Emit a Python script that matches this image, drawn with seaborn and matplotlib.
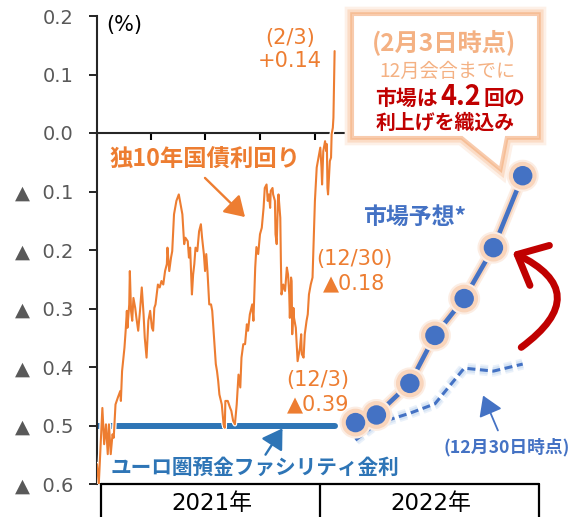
import numpy as np
import pandas as pd
import matplotlib
matplotlib.use("Agg")
import matplotlib.pyplot as plt
import matplotlib.patheffects as pe
from matplotlib.patches import Polygon, FancyArrowPatch
from matplotlib.lines import Line2D
from matplotlib.offsetbox import TextArea, HPacker, AnnotationBbox
import seaborn as sns

# German 10y bund yield, days counted from 2021-01-01 (%)
bund_days = [
    0, 3, 9, 12, 15, 18, 20, 23, 26, 28, 31, 35, 39, 40, 42, 46, 48, 50, 51, 54,
    55, 57, 59, 61, 64, 66, 69, 72, 75, 78, 80, 83, 86, 89, 92, 94, 96, 98, 102, 105,
    108, 111, 114, 117, 118, 121, 124, 126, 129, 131, 133, 137, 141, 143, 146, 148, 152, 154, 156, 159,
    161, 163, 165, 168, 171, 174, 176, 179, 181, 183, 185, 188, 191, 193, 196, 199, 201, 203, 205, 209,
    212, 214, 215, 219, 223, 225, 228, 231, 234, 237, 240, 242, 245, 248, 251, 253, 256, 260, 262, 265,
    267, 270, 273, 276, 279, 281, 284, 286, 288, 290, 291, 294, 295, 298, 299, 301, 303, 304, 307, 308,
    309, 312, 315, 318, 320, 322, 323, 325, 326, 327, 329, 330, 333, 336, 337, 340, 342, 343, 346, 348,
    351, 353, 355, 358, 361, 363, 365, 368, 371, 374, 376, 377, 379, 382, 384, 385, 386, 387, 390, 392,
    393, 395, 396, 398,
]
bund_yield = [
    -0.566, -0.600, -0.470, -0.532, -0.498, -0.549, -0.498, -0.549, -0.515, -0.521,
    -0.464, -0.452, -0.441, -0.458, -0.407, -0.367, -0.338, -0.304, -0.333, -0.293,
    -0.236, -0.304, -0.321, -0.282, -0.299, -0.316, -0.338, -0.304, -0.264, -0.310,
    -0.350, -0.384, -0.321, -0.304, -0.333, -0.338, -0.299, -0.293, -0.259, -0.264,
    -0.253, -0.259, -0.236, -0.224, -0.196, -0.236, -0.213, -0.202, -0.139, -0.128,
    -0.116, -0.105, -0.128, -0.139, -0.190, -0.179, -0.185, -0.213, -0.196, -0.276,
    -0.242, -0.224, -0.196, -0.202, -0.168, -0.156, -0.179, -0.207, -0.236, -0.207,
    -0.236, -0.293, -0.293, -0.304, -0.350, -0.395, -0.407, -0.424, -0.447, -0.464,
    -0.498, -0.504, -0.458, -0.458, -0.470, -0.475, -0.492, -0.498, -0.464, -0.413,
    -0.435, -0.384, -0.361, -0.361, -0.327, -0.338, -0.310, -0.293, -0.321, -0.230,
    -0.195, -0.207, -0.173, -0.162, -0.128, -0.094, -0.088, -0.116, -0.105, -0.128,
    -0.099, -0.094, -0.105, -0.116, -0.173, -0.190, -0.116, -0.105, -0.145, -0.219,
    -0.276, -0.259, -0.270, -0.230, -0.242, -0.276, -0.316, -0.247, -0.253, -0.344,
    -0.299, -0.316, -0.333, -0.390, -0.384, -0.367, -0.344, -0.378, -0.384, -0.344,
    -0.321, -0.310, -0.276, -0.259, -0.247, -0.180, -0.116, -0.059, -0.042, -0.025,
    -0.059, -0.088, -0.031, -0.014, -0.031, -0.019, -0.094, -0.105, -0.048, -0.042,
    -0.002, 0.009, 0.026, 0.140,
]

# ECB deposit facility rate
depo_dates = ["2021-01-01", "2022-02-03"]
depo_rate = [-0.50, -0.50]

# market-implied deposit rate after each 2022 meeting
meeting_dates = ["2022-03-10", "2022-04-14", "2022-06-09", "2022-07-21",
                 "2022-09-08", "2022-10-27", "2022-12-15"]
implied_feb3 = [-0.495, -0.482, -0.428, -0.346, -0.283, -0.196, -0.073]
implied_dec30 = [-0.525, -0.497, -0.479, -0.463, -0.402, -0.407, -0.395]

y_ticks = [0.2, 0.1, 0.0, -0.1, -0.2, -0.3, -0.4, -0.5, -0.6]
year_labels = ["2021年", "2022年"]

W, H = 583, 517
start = pd.Timestamp("2021-01-01")

bund = pd.DataFrame({"date": start + pd.to_timedelta(bund_days, unit="D"),
                     "yield": bund_yield})
market = pd.DataFrame({"date": pd.to_datetime(meeting_dates),
                       "feb3": implied_feb3, "dec30": implied_dec30})

sns.set_style("ticks")
plt.rcParams["font.family"] = ["DejaVu Sans", "Noto Sans CJK JP"]
JP = ["Noto Sans CJK JP", "DejaVu Sans"]

ORANGE = "#ED7D31"
BLUE = "#4472C4"
DBLUE = "#2E75B6"
RED = "#C00000"

fig = plt.figure(figsize=(W / 100, H / 100), dpi=100)
ax = fig.add_axes([97 / W, 33 / H, 443 / W, 468 / H])


def P(x, y):
    return (x / W, 1 - y / H)


# deposit rate
ax.plot(pd.to_datetime(depo_dates), depo_rate, color=DBLUE, lw=4.3,
        solid_capstyle="round", zorder=2)

# bund yield with white halo
sns.lineplot(data=bund, x="date", y="yield", ax=ax, color=ORANGE, lw=1.5,
             estimator=None, zorder=3,
             path_effects=[pe.Stroke(linewidth=3.2, foreground="white"), pe.Normal()])

# dashed expectation (Dec 30)
sns.lineplot(data=market, x="date", y="dec30", ax=ax, color=BLUE, lw=2.2,
             estimator=None, linestyle=(0, (2.6, 1.5)), zorder=3,
             path_effects=[pe.Stroke(linewidth=8, foreground="#EAF1FA"),
                           pe.Stroke(linewidth=5.5, foreground="#D6E4F4"),
                           pe.Normal()])

# current expectation (Feb 3)
glow = [pe.Stroke(linewidth=9, foreground="#FCEDE3"),
        pe.Stroke(linewidth=6, foreground="#F9D5BC"),
        pe.Normal()]
sns.lineplot(data=market, x="date", y="feb3", ax=ax, color=BLUE, lw=3.3,
             estimator=None, marker="o", markersize=14, markeredgewidth=0,
             markeredgecolor=BLUE, zorder=4, path_effects=glow)

ax.set_xlim(start, start + pd.Timedelta(days=742))
ax.set_ylim(-0.6, 0.2)
ax.set_xlabel("")
ax.set_ylabel("")

ax.set_yticks(y_ticks)
ax.set_yticklabels([f"{v:.1f}" if v >= 0 else f"▲  {abs(v):.1f}" for v in y_ticks])
ax.tick_params(axis="y", direction="out", length=6, width=1.2, pad=11,
               labelsize=14, labelcolor="#595959", color="black")

qticks = pd.date_range("2021-01-01", "2022-10-01", freq="QS")
ax.set_xticks(qticks)
ax.set_xticklabels([""] * len(qticks))
ax.tick_params(axis="x", direction="out", length=5, width=1.5, color="black")

ax.spines["bottom"].set_position(("data", 0))
ax.spines["bottom"].set_linewidth(1.5)
ax.spines["left"].set_linewidth(1.5)
ax.spines["top"].set_visible(False)
ax.spines["right"].set_visible(False)

# year table under the plot
for seg in [((101, 484), (539, 484)), ((101, 484), (101, 520)),
            ((320, 484), (320, 520)), ((539, 484), (539, 520))]:
    (x0, y0), (x1, y1) = seg
    fig.add_artist(Line2D([x0 / W, x1 / W], [1 - y0 / H, 1 - y1 / H],
                          transform=fig.transFigure, color="black", lw=1.6))
fig.text(*P(212, 504), year_labels[0], ha="center", va="center", fontsize=16.5, color="black")
fig.text(*P(431, 504), year_labels[1], ha="center", va="center", fontsize=16.5, color="black")

fig.text(*P(106, 25), "(%)", ha="left", va="center", fontsize=15, color="black")

# series labels
fig.text(*P(110, 160), "独10年国債利回り", ha="left", va="center", fontsize=16.8,
         fontweight="bold", color=ORANGE, family=JP)
fig.add_artist(FancyArrowPatch(P(203, 176), P(247, 219), transform=fig.transFigure,
                               arrowstyle="-|>,head_length=0.8,head_width=0.5",
                               mutation_scale=15, lw=1.7, color=ORANGE))

fig.text(*P(111, 467), "ユーロ圏預金ファシリティ金利", ha="left", va="center",
         fontsize=14.9, fontweight="bold", color=DBLUE, family=JP)
fig.add_artist(FancyArrowPatch(P(264, 457), P(284, 426), transform=fig.transFigure,
                               arrowstyle="-|>,head_length=0.8,head_width=0.5",
                               mutation_scale=15, lw=1.7, color=DBLUE))

fig.text(*P(363, 217), "市場予想*", ha="left", va="center", fontsize=16.5,
         fontweight="bold", color=BLUE, family=JP)
fig.text(*P(507, 447), "(12月30日時点)", ha="center", va="center", fontsize=12.8,
         fontweight="bold", color=BLUE, family=JP)
fig.add_artist(FancyArrowPatch(P(499, 433), P(482, 393), transform=fig.transFigure,
                               arrowstyle="-|>,head_length=0.8,head_width=0.5",
                               mutation_scale=15, lw=1.3, color=BLUE))

# value call-outs
for x, y1, y2, t1, t2 in [(290, 38, 61, "(2/3)", "+0.14"),
                          (354, 259, 283, "(12/30)", "▲0.18"),
                          (318, 380, 404, "(12/3)", "▲0.39")]:
    fig.text(*P(x, y1), t1, ha="center", va="center", fontsize=15, color=ORANGE)
    fig.text(*P(x, y2), t2, ha="center", va="center", fontsize=15, color=ORANGE)

# speech bubble
bubble = [(353, 15), (538, 15), (538, 137), (506, 137), (500, 168), (462, 137), (353, 137)]
fig.add_artist(Polygon([P(x, y) for x, y in bubble], closed=True,
                       transform=fig.transFigure, facecolor="white",
                       edgecolor="#F8CBAD", lw=1.5, zorder=5,
                       path_effects=[pe.Stroke(linewidth=12, foreground="#FDF0E7"),
                                     pe.Stroke(linewidth=8, foreground="#FBDCC6"),
                                     pe.Stroke(linewidth=4, foreground="#F6BE96"),
                                     pe.Normal()]))
fig.text(*P(444, 42), "(2月3日時点)", ha="center", va="center", fontsize=17.5,
         fontweight="bold", color="#F4B183", family=JP, zorder=6)
fig.text(*P(447, 71), "12月会合までに", ha="center", va="center", fontsize=13.8,
         color="#F4B183", family=JP, zorder=6)
row = HPacker(children=[
    TextArea("市場は", textprops=dict(fontsize=15, fontweight="bold", color=RED, family=JP)),
    TextArea("4.2", textprops=dict(fontsize=19.5, fontweight="bold", color=RED, family=JP)),
    TextArea("回の", textprops=dict(fontsize=15, fontweight="bold", color=RED, family=JP)),
], align="baseline", pad=0, sep=2)
ab = AnnotationBbox(row, P(450, 97), xycoords="figure fraction", frameon=False,
                    box_alignment=(0.5, 0.5), zorder=6)
fig.add_artist(ab)
fig.text(*P(445, 122), "利上げを織込み", ha="center", va="center", fontsize=14.3,
         fontweight="bold", color=RED, family=JP, zorder=6)

# red curved arrow
fig.add_artist(FancyArrowPatch(P(519, 349), P(510, 251), transform=fig.transFigure,
                               connectionstyle="arc3,rad=0.85",
                               arrowstyle="->,head_length=0.9,head_width=0.8",
                               mutation_scale=20, lw=5, color=RED, zorder=6))

fig.savefig("out.png", dpi=100)
